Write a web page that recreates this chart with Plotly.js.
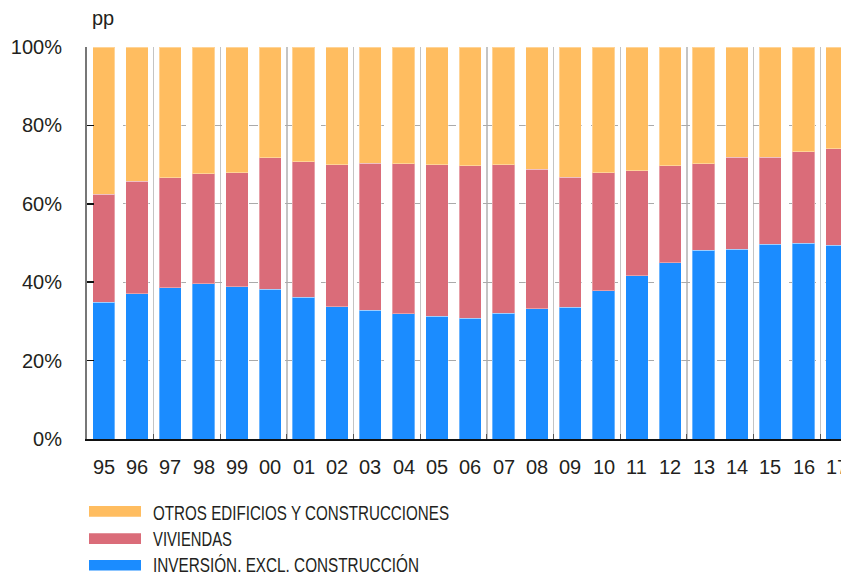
<!DOCTYPE html>
<html>
<head>
<meta charset="utf-8">
<script src="https://cdn.plot.ly/plotly-3.0.1.min.js"></script>
<style>
html,body{margin:0;padding:0;background:#fff;}
#chart{width:841px;height:572px;}
</style>
</head>
<body>
<div id="chart"></div>
<script>
// Data (% of total)
const years = ["95","96","97","98","99","00","01","02","03","04","05","06","07","08","09","10","11","12","13","14","15","16","17"];
const inversionExclConstruccion = [34.9,37.1,38.6,39.6,38.9,38.2,36.1,33.8,32.8,31.9,31.3,30.8,32.1,33.2,33.6,37.8,41.7,44.9,48.1,48.4,49.7,49.9,49.4];
const viviendas = [27.6,28.7,28.1,28.1,29.0,33.5,34.6,36.2,37.6,38.3,38.7,38.9,37.8,35.6,33.2,30.1,26.7,24.8,22.1,23.5,22.2,23.4,24.7];
const otrosEdificios = [37.5,34.2,33.3,32.3,32.1,28.3,29.3,30.0,29.6,29.8,30.0,30.3,30.1,31.2,33.2,32.1,31.6,30.3,29.8,28.1,28.1,26.7,25.9];
const seriesNames = ["OTROS EDIFICIOS Y CONSTRUCCIONES","VIVIENDAS","INVERSIÓN. EXCL. CONSTRUCCIÓN"];
const yTicks = [0,20,40,60,80,100];

const colBlue = "#1B8CFF", colRed = "#DA6C79", colOrange = "#FFBD60";
const txt = "#231f20";

const idx = years.map((_, i) => i);
const gridVals = idx.filter(i => i % 2 === 1 && i < years.length - 1).map(i => i + 0.5);

const W = 841, H = 572;
const mL = 87, mR = 0, mT = 47, mB = 133;
const pw = W - mL - mR, ph = H - mT - mB;
const xRange = [-0.5, -0.5 + pw / 33.33];

const mk = (vals, name, color) => ({
  type: "bar", x: idx, y: vals, name: name,
  marker: {color: color, line: {color: "rgba(255,255,255,0.35)", width: 1}},
  showlegend: false, hoverinfo: "skip"
});
const traces = [
  mk(inversionExclConstruccion, seriesNames[2], colBlue),
  mk(viviendas, seriesNames[1], colRed),
  mk(otrosEdificios, seriesNames[0], colOrange)
];

const px2x = p => (p - mL) / pw;
const py2y = p => (H - mB - p) / ph;

const shapes = [], annotations = [];
// year labels (annotations so the last one can be cut by the page edge like the original)
years.forEach((yr, i) => {
  annotations.push({xref: "x", yref: "paper", x: i, y: py2y(467.5), xanchor: "center", yanchor: "middle",
    showarrow: false, text: yr, font: {family: "Liberation Sans, Arial, sans-serif", size: 20, color: txt}});
});
// custom legend (wide swatches)
const legendColors = [colOrange, colRed, colBlue];
const swRows = [511.4, 538.6, 565.3];
const legRows = [512, 538.5, 564];
const legWidths = [296, 79, 266];
legendColors.forEach((c, k) => {
  shapes.push({type: "rect", xref: "paper", yref: "paper",
    x0: px2x(89), x1: px2x(141), y0: py2y(swRows[k] - 5.3), y1: py2y(swRows[k] + 5.3),
    fillcolor: c, line: {width: 0}});
  annotations.push({xref: "paper", yref: "paper", x: px2x(151), y: py2y(legRows[k]),
    xanchor: "left", yanchor: "middle", showarrow: false, text: seriesNames[k],
    font: {family: "Liberation Sans, Arial, sans-serif", size: 21, color: txt}});
});
annotations.push({xref: "paper", yref: "paper", x: px2x(90), y: py2y(18), xanchor: "left", yanchor: "middle",
  showarrow: false, text: "pp", font: {family: "Liberation Sans, Arial, sans-serif", size: 20, color: txt}});

const layout = {
  width: W, height: H,
  margin: {l: mL, r: mR, t: mT, b: mB, pad: 0},
  paper_bgcolor: "#fff", plot_bgcolor: "#fff",
  barmode: "stack", bargap: 0.33,
  font: {family: "Liberation Sans, Arial, sans-serif", color: txt, size: 20},
  xaxis: {
    type: "linear", range: xRange, tickmode: "array", tickvals: gridVals, showticklabels: false,
    showgrid: true, gridcolor: "#c4c4c4", gridwidth: 1.5,
    ticks: "inside", ticklen: 5, tickcolor: "#555", tickwidth: 1,
    showline: true, linecolor: "#111", linewidth: 1.5, zeroline: false, fixedrange: true
  },
  yaxis: {
    range: [0, 100], tickmode: "array", tickvals: yTicks, ticktext: yTicks.map(v => v + "%"),
    showgrid: true, gridcolor: "#aaaaaa", griddash: "dash", gridwidth: 1,
    ticks: "inside", ticklen: 7, tickcolor: "#111", tickwidth: 1.5,
    showline: true, linecolor: "#777", linewidth: 2, zeroline: false,
    ticklabelstandoff: 19, tickfont: {size: 20, color: txt}, fixedrange: true
  },
  shapes: shapes,
  annotations: annotations,
  showlegend: false
};

Plotly.newPlot("chart", traces, layout, {staticPlot: true, displayModeBar: false}).then(gd => {
  // condense legend labels to the original's narrow type width
  gd.querySelectorAll("text.annotation-text").forEach(t => {
    const k = seriesNames.indexOf(t.textContent);
    if (k < 0) return;
    const bb = t.getBBox();
    t.setAttribute("text-anchor", "start");
    t.setAttribute("x", bb.x);
    t.setAttribute("textLength", legWidths[k]);
    t.setAttribute("lengthAdjust", "spacingAndGlyphs");
  });
});
</script>
</body>
</html>
